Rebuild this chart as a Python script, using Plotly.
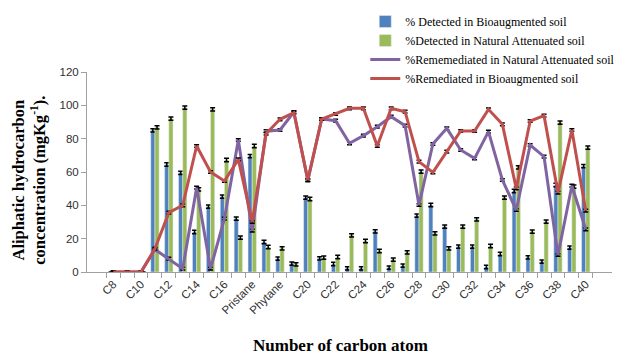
import plotly.graph_objects as go

categories = ["C8", "C9", "C10", "C11", "C12", "C13", "C14", "C15", "C16", "C17",
              "Pristane", "C18", "Phytane", "C19", "C20", "C21", "C22", "C23", "C24",
              "C25", "C26", "C27", "C28", "C29", "C30", "C31", "C32", "C33", "C34",
              "C35", "C36", "C37", "C38", "C39", "C40"]

detected_bio = [0, 0, 0, 85, 64.5, 59.5, 24, 39.2, 45.2, 32, 69.5, 18, 8, 5, 44.6,
                8.2, 4.8, 2.2, 2.2, 24.4, 2.6, 3.8, 33.8, 40.2, 27.2, 15.2, 15.2, 3,
                10.8, 48.6, 8.8, 6.2, 52.2, 14.6, 63.5]
detected_nat = [0, 0, 0, 86.8, 92, 98.6, 49.6, 97.6, 67.2, 20.6, 75.6, 15, 14.2, 4.6,
                43.8, 8.6, 9, 22, 18.6, 12.6, 7.4, 11.8, 60.2, 23.2, 14.2, 27.2, 31.6,
                15.6, 44.6, 62.8, 24.2, 30.2, 89.6, 51.2, 74.6]
remed_nat = [0, 0, 0, 13.5, 8, 2, 50.6, 2, 32, 79.2, 24.8, 84.5, 85.2, 96, 55, 91.8,
             90.8, 77.2, 81.8, 87.2, 93.2, 87.8, 40.2, 76.8, 86.2, 73.2, 68.2, 84.2,
             55.2, 37.2, 76.2, 69.2, 10.2, 51.8, 25.6]
remed_bio = [0, 0, 0, 14, 35.6, 40, 75.6, 60, 54.6, 67.6, 30, 83, 91.6, 95.6, 55.2,
             91.8, 94.8, 98.2, 98.2, 75.6, 98.2, 96.2, 66.2, 59.8, 72.2, 84.6, 84.6,
             97.6, 88.6, 50.2, 90.6, 93.8, 47.6, 85.2, 36.8]

err_bar = [0 if v == 0 else 1.0 for v in detected_bio]
err_bar2 = [0 if v == 0 else 1.0 for v in detected_nat]
err_line = [0.8] * len(categories)

tick_labels = [c if i % 2 == 0 else "" for i, c in enumerate(categories)]

eb = dict(type="data", color="black", thickness=1.5, width=2.5)

fig = go.Figure()
fig.add_trace(go.Bar(x=categories, y=detected_bio, name="% Detected in Bioaugmented soil",
                     marker_color="#4F81BD",
                     error_y=dict(array=err_bar, **eb)))
fig.add_trace(go.Bar(x=categories, y=detected_nat, name="%Detected in Natural Attenuated soil",
                     marker_color="#9BBB59",
                     error_y=dict(array=err_bar2, **eb)))
fig.add_trace(go.Scatter(x=categories, y=remed_nat, mode="lines",
                         name="%Rememediated in Natural Attenuated soil",
                         line=dict(color="#8064A2", width=3),
                         error_y=dict(array=err_line, **eb)))
fig.add_trace(go.Scatter(x=categories, y=remed_bio, mode="lines",
                         name="%Remediated in Bioaugmented soil",
                         line=dict(color="#C0504D", width=3),
                         error_y=dict(array=err_line, **eb)))

fig.update_layout(
    width=627, height=352,
    margin=dict(l=79, r=23, t=64, b=88, autoexpand=False),
    paper_bgcolor="white", plot_bgcolor="white",
    barmode="group", bargap=0.4, bargroupgap=0.0,
    font=dict(family="Liberation Sans, Arial, sans-serif", size=11, color="#404040"),
    legend=dict(x=0.53, y=1.325, xanchor="left", yanchor="top",
                font=dict(family="Liberation Serif, Times New Roman, serif", size=12, color="black"),
                bgcolor="rgba(0,0,0,0)", tracegroupgap=0, itemwidth=30),
    showlegend=True,
)
fig.update_xaxes(
    type="category", tickmode="array", tickvals=categories, ticktext=tick_labels,
    tickangle=-45, tickson="boundaries", ticks="outside", ticklen=5,
    tickcolor="#A0A0A0", showline=True, linecolor="#A0A0A0", linewidth=1,
    showgrid=False, tickfont=dict(size=11.5, color="#303030"),
)
fig.update_yaxes(
    range=[0, 120], dtick=20, ticks="outside", ticklen=5, tickcolor="#A0A0A0",
    showline=True, linecolor="#A0A0A0", linewidth=1, showgrid=False,
    zeroline=False, tickfont=dict(size=11.5, color="#303030"),
)

fig.add_annotation(
    text="<b>Aliphatic hydrocarbon<br>concentration (mgKg<sup>-1</sup>).</b>",
    xref="paper", yref="paper", x=-0.111, y=0.46, textangle=-90, showarrow=False,
    font=dict(family="Liberation Serif, Times New Roman, serif", size=16.5, color="black"),
    xanchor="center", yanchor="middle",
)
fig.add_annotation(
    text="<b>Number of carbon atom</b>",
    xref="paper", yref="paper", x=0.482, y=-0.365, showarrow=False,
    font=dict(family="Liberation Serif, Times New Roman, serif", size=17, color="black"),
    xanchor="center", yanchor="middle",
)

fig.write_html("out.html")
